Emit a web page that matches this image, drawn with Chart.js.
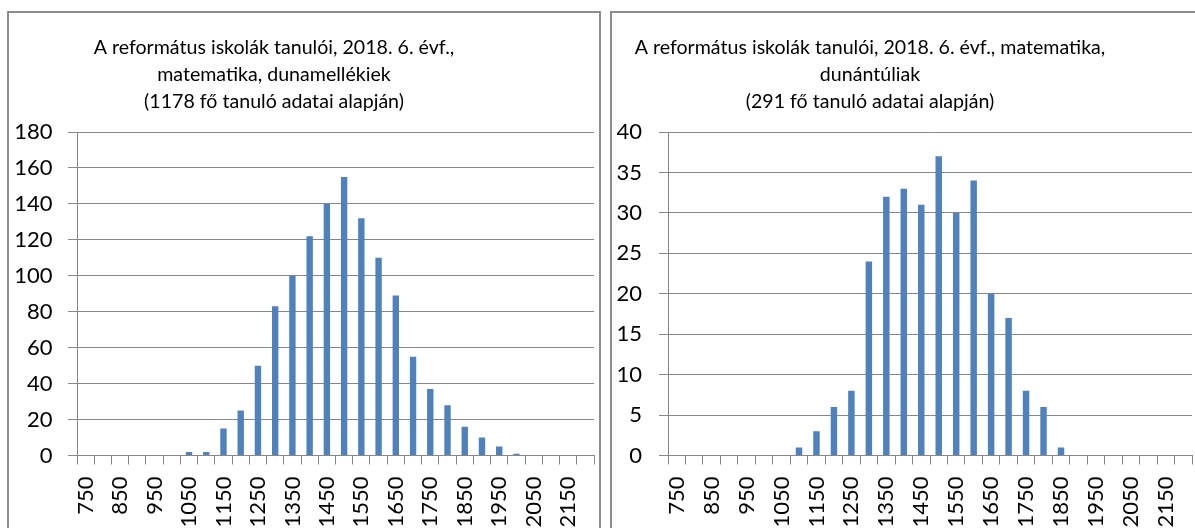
<!DOCTYPE html>
<html><head><meta charset="utf-8">
<script src="https://cdn.jsdelivr.net/npm/chart.js@4.4.1/dist/chart.umd.min.js"></script>
<style>
html,body{margin:0;padding:0;background:#fff;overflow:hidden;width:1195px;height:528px;}
.box{position:absolute;top:11px;border:2px solid #8c8c8c;border-bottom:none;height:620px;background:#fff;}
#boxL{left:7px;width:590px;}
#boxR{left:610px;width:600px;border-right:none;}
.wrap{position:relative;height:580px;}
#boxL .wrap{width:590px;}
#boxR .wrap{width:583px;}
</style></head><body>
<div class="box" id="boxL"><div class="wrap"><canvas id="cL"></canvas></div></div>
<div class="box" id="boxR"><div class="wrap"><canvas id="cR"></canvas></div></div>
<script>
const categories = ['750','800','850','900','950','1000','1050','1100','1150','1200','1250','1300','1350','1400','1450','1500','1550','1600','1650','1700','1750','1800','1850','1900','1950','2000','2050','2100','2150','2200'];
const tickLabels = ['750','850','950','1050','1150','1250','1350','1450','1550','1650','1750','1850','1950','2050','2150'];
const valuesDunamellek = [0,0,0,0,0,0,2,2,15,25,50,83,100,122,140,155,132,110,89,55,37,28,16,10,5,1,0,0,0,0];
const valuesDunantul = [0,0,0,0,0,0,0,1,3,6,8,24,32,33,31,37,30,34,20,17,8,6,1,0,0,0,0,0,0,0];
const titleDunamellek = ['A református iskolák tanulói, 2018. 6. évf.,', 'matematika, dunamellékiek', '(1178 fő tanuló adatai alapján)'];
const titleDunantul = ['A református iskolák tanulói, 2018. 6. évf., matematika,', 'dunántúliak', '(291 fő tanuló adatai alapján)'];
const yTicksDunamellek = {max: 180, step: 20};
const yTicksDunantul = {max: 40, step: 5};

const titleShift = {
  id: 'titleShift',
  afterLayout(chart, args, opts) {
    const t = chart.titleBlock;
    if (!t || opts.center == null) return;
    const half = (t.right - t.left) / 2;
    t.left = opts.center - half;
    t.right = opts.center + half;
  }
};

const FONT = 'Lato, "Open Sans", sans-serif';
const GRID = '#878787';

function makeChart(id, values, title, yt, cfg) {
  const showSet = new Set(tickLabels);
  return new Chart(document.getElementById(id), {
    type: 'bar',
    data: {
      labels: categories,
      datasets: [{
        data: values,
        backgroundColor: '#4f81bd',
        borderWidth: 0,
        categoryPercentage: 1,
        barPercentage: 0.37
      }]
    },
    plugins: [titleShift],
    options: {
      responsive: true,
      maintainAspectRatio: false,
      animation: false,
      layout: {padding: {left: 0, right: cfg.padRight, top: 0, bottom: 0}},
      plugins: {
        legend: {display: false},
        tooltip: {enabled: false},
        titleShift: {center: cfg.titleCenter},
        title: {
          display: true,
          text: title,
          color: '#000',
          font: {family: FONT, size: 19.6, weight: 'normal', lineHeight: 1.4},
          padding: {top: 20.5, bottom: 16.2}
        }
      },
      scales: {
        x: {
          grid: {display: true, drawOnChartArea: false, drawTicks: true, tickLength: 9, color: GRID, offset: true},
          border: {display: true, color: GRID, width: 1},
          ticks: {
            autoSkip: false, minRotation: 90, maxRotation: 90, padding: 12,
            color: '#000', font: {family: FONT, size: 22},
            callback: (v, i) => showSet.has(categories[i]) ? categories[i] : ''
          },
          afterFit: (s) => { s.height = cfg.xHeight; s.paddingLeft = 0; s.paddingRight = 0; }
        },
        y: {
          min: 0, max: yt.max,
          grid: {color: GRID, drawTicks: true, tickLength: 9},
          border: {display: true, color: GRID, width: 1},
          ticks: {stepSize: yt.step, padding: cfg.yPad, color: '#000', font: {family: FONT, size: 22}},
          afterFit: (s) => { s.width = cfg.yWidth; }
        }
      }
    }
  });
}

makeChart('cL', valuesDunamellek, titleDunamellek, yTicksDunamellek,
  {padRight: 5, titleCenter: 265, xHeight: 137.5, yWidth: 68, yPad: 15.5});
makeChart('cR', valuesDunantul, titleDunantul, yTicksDunantul,
  {padRight: 3, titleCenter: 258, xHeight: 137.5, yWidth: 56, yPad: 17});
</script>
</body></html>
